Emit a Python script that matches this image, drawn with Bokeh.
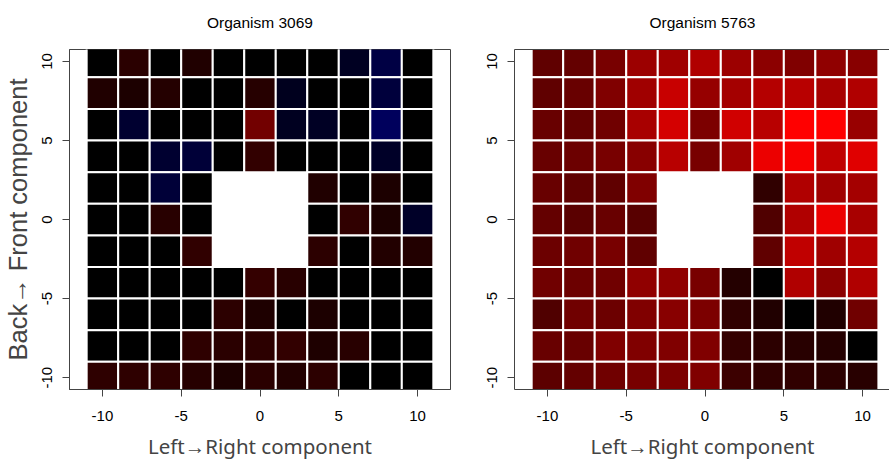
from bokeh.plotting import figure
from bokeh.layouts import row
from bokeh.models import Range1d, FixedTicker, ColumnDataSource, LinearAxis
from bokeh.embed import file_html
from bokeh.resources import INLINE

# ---- data ----
x_vals = [-10, -8, -6, -4, -2, 0, 2, 4, 6, 8, 10]
y_vals = [10, 8, 6, 4, 2, 0, -2, -4, -6, -8, -10]   # rows, top to bottom
tick_vals = [-10, -5, 0, 5, 10]
tick_labels = ["-10", "-5", "0", "5", "10"]
titles = ["Organism 3069", "Organism 5763"]
x_label = "Left\u2192Right component"
y_label = "Back\u2192 Front component"

# signed intensity (0-255): positive -> red, negative -> blue, None -> missing
org3069 = [
    [0, 42, 0, 32, 0, 0, 0, 0, -34, -68, 0],
    [32, 28, 36, 0, 0, 38, -30, 0, 0, -60, 0],
    [0, -48, 0, 0, 0, 114, -32, -36, 0, -92, 0],
    [0, 0, -48, -56, 0, 50, 0, 0, 0, -40, 0],
    [0, 0, -56, 0, None, None, None, 32, 0, 28, 0],
    [0, 0, 40, 0, None, None, None, 0, 48, 28, -40],
    [0, 0, 0, 48, None, None, None, 44, 0, 34, 34],
    [0, 0, 0, 0, 0, 52, 40, 0, 0, 0, 0],
    [0, 0, 0, 0, 44, 30, 0, 28, 0, 0, 0],
    [0, 0, 0, 46, 42, 44, 50, 30, 40, 0, 0],
    [46, 46, 46, 38, 28, 42, 34, 44, 0, 0, 0],
]
org5763 = [
    [96, 100, 120, 156, 160, 176, 156, 140, 128, 144, 136],
    [96, 104, 128, 160, 200, 150, 164, 180, 184, 168, 176],
    [104, 100, 112, 168, 212, 124, 208, 184, 255, 255, 152],
    [104, 108, 120, 136, 184, 120, 160, 236, 248, 192, 224],
    [104, 96, 96, 128, None, None, None, 48, 176, 160, 164],
    [100, 90, 104, 88, None, None, None, 80, 176, 236, 168],
    [108, 112, 120, 96, None, None, None, 96, 192, 160, 180],
    [112, 108, 112, 144, 144, 120, 36, 0, 176, 140, 176],
    [80, 112, 108, 128, 136, 124, 48, 32, 0, 32, 112],
    [104, 104, 128, 128, 128, 128, 52, 44, 40, 36, 0],
    [92, 100, 112, 120, 124, 128, 60, 48, 48, 44, 40],
]


def to_color(v):
    r = max(v, 0)
    b = max(-v, 0)
    return "#%02x%02x%02x" % (r, 0, b)


def make_source(grid):
    xs, ys, cs = [], [], []
    for yv, vals in zip(y_vals, grid):
        for xv, v in zip(x_vals, vals):
            if v is None:
                continue
            xs.append(xv)
            ys.append(yv)
            cs.append(to_color(v))
    return ColumnDataSource(dict(x=xs, y=ys, color=cs))


BOX = "#444444"
TICK_FONT = "Liberation Sans"


def make_fig(title, grid, frame_w, x_end, b_left, b_right, with_ylabel, outline):
    p = figure(frame_width=frame_w, frame_height=340,
               x_range=Range1d(-12.09, x_end), y_range=Range1d(-10.75, 10.76),
               output_backend="svg", toolbar_location=None,
               min_border_left=b_left, min_border_right=b_right,
               min_border_top=49, min_border_bottom=74)
    p.rect(x="x", y="y", width=2, height=2, fill_color="color",
           line_color="white", line_width=2, source=make_source(grid))
    p.grid.visible = False
    p.background_fill_color = "white"
    p.border_fill_color = "white"
    p.outline_line_color = BOX if outline else None
    p.outline_line_width = 1

    xa = p.below[0]
    ya = p.left[0]
    overrides = {t: s for t, s in zip(tick_vals, tick_labels)}
    for ax in (xa, ya):
        ax.ticker = FixedTicker(ticks=tick_vals)
        ax.major_label_overrides = overrides
        ax.minor_tick_line_color = None
        ax.major_tick_in = 0
        ax.major_tick_out = 7
        ax.major_tick_line_color = BOX
        ax.axis_line_color = BOX
        ax.major_label_text_font = TICK_FONT
        ax.major_label_text_font_size = "15px"
        ax.major_label_text_color = "black"
    xa.major_label_standoff = 14
    ya.major_label_standoff = 10
    ya.major_label_orientation = "vertical"

    xa.axis_label = x_label
    xa.axis_label_text_font = "Noto Sans"
    xa.axis_label_text_font_size = "20.5px"
    xa.axis_label_text_font_style = "normal"
    xa.axis_label_standoff = 8
    if with_ylabel:
        ya.axis_label = y_label
        ya.axis_label_text_font = TICK_FONT
        ya.axis_label_text_font_size = "25.5px"
        ya.axis_label_text_font_style = "normal"
        ya.axis_label_standoff = 8

    # title drawn as the label of a tick-less axis above the frame
    top = LinearAxis(ticker=FixedTicker(ticks=[]), axis_label=title,
                     axis_line_color=None if outline else BOX,
                     major_tick_line_color=None, minor_tick_line_color=None,
                     major_tick_in=0, major_tick_out=0,
                     major_label_standoff=0,
                     major_label_text_font_size="0px",
                     axis_label_text_font=TICK_FONT,
                     axis_label_text_font_size="15.5px",
                     axis_label_text_font_style="normal",
                     axis_label_text_color="black",
                     axis_label_standoff=19)
    p.add_layout(top, "above")
    return p


p1 = make_fig(titles[0], org3069, 381, 12.09, 68, 20, True, True)
p2 = make_fig(titles[1], org5763, 376, -12.09 + 376 / 15.76, 44, 0, False, False)

layout = row(p1, p2)
open("out.html", "w").write(file_html(layout, INLINE))
